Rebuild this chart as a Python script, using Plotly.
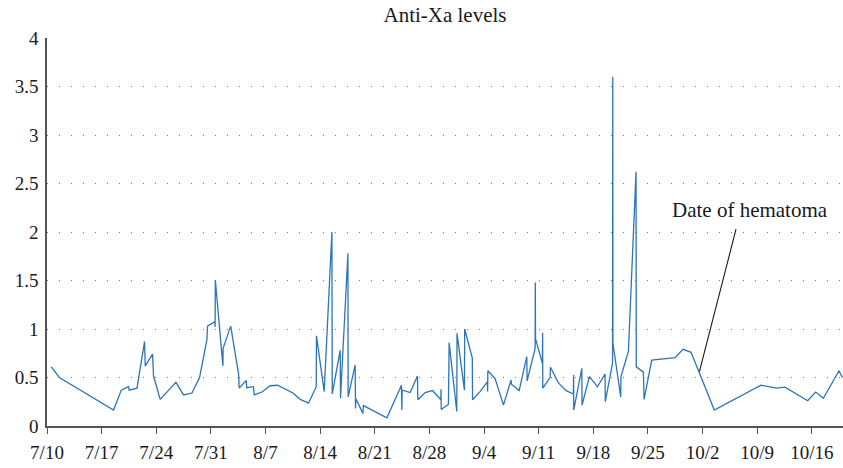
import pandas as pd
import plotly.graph_objects as go

# Measurement times, expressed as days elapsed since 7/10 (fractional = time of day)
start_date = "2019-07-10"
days_since_start = [
    0.55, 1.58, 8.53, 9.52, 10.45, 10.54, 11.53, 12.50, 12.59, 13.53, 13.65, 14.51,
    16.52, 17.50, 18.57, 19.55, 20.49, 20.57, 21.52, 21.54, 21.57, 22.54, 22.57,
    23.54, 24.54, 24.63, 25.53, 25.59, 26.46, 26.55, 27.54, 28.60, 29.54, 30.43,
    31.51, 32.45, 33.51, 34.50, 34.53, 35.52, 36.51, 36.55, 37.57, 37.61, 38.56,
    38.59, 39.49, 39.53, 39.58, 40.48, 40.55, 43.55, 45.42, 45.47, 45.51, 46.54,
    47.47, 47.52, 48.46, 49.39, 50.47, 50.49, 50.52, 51.44, 51.53, 52.51, 52.54,
    53.49, 53.52, 54.50, 54.53, 55.49, 56.43, 56.46, 56.49, 57.42, 58.49, 59.47,
    59.51, 60.50, 61.48, 61.52, 62.55, 62.57, 62.60, 63.48, 63.51, 63.53, 64.47,
    64.51, 65.53, 66.52, 67.45, 67.48, 67.50, 68.53, 68.56, 69.50, 70.53, 71.51,
    71.54, 72.47, 72.50, 72.52, 73.52, 73.55, 74.50, 75.48, 75.51, 76.42, 76.51,
    77.49, 80.48, 81.50, 82.53, 85.51, 91.49, 93.50, 94.57, 97.48, 98.50, 99.48,
    101.49, 101.91,
]
anti_xa = [
    0.61, 0.50, 0.165, 0.37, 0.405, 0.37, 0.39, 0.87, 0.62, 0.74, 0.515, 0.275,
    0.45, 0.32, 0.34, 0.50, 0.89, 1.03, 1.075, 1.02, 1.505, 0.62, 0.80,
    1.03, 0.54, 0.39, 0.47, 0.395, 0.405, 0.32, 0.35, 0.415, 0.42, 0.38,
    0.34, 0.275, 0.235, 0.405, 0.93, 0.355, 2.00, 0.33, 0.78, 0.285, 1.78,
    0.30, 0.63, 0.18, 0.28, 0.13, 0.21, 0.085, 0.42, 0.165, 0.37, 0.345,
    0.515, 0.27, 0.345, 0.365, 0.27, 0.38, 0.17, 0.225, 0.86, 0.15, 0.955,
    0.37, 1.00, 0.70, 0.27, 0.355, 0.455, 0.355, 0.57, 0.49, 0.215, 0.475,
    0.43, 0.365, 0.715, 0.465, 0.80, 1.48, 0.90, 0.645, 0.96, 0.39, 0.50,
    0.605, 0.445, 0.365, 0.33, 0.525, 0.165, 0.595, 0.215, 0.51, 0.405, 0.535,
    0.25, 0.65, 3.60, 0.85, 0.30, 0.51, 0.77, 2.62, 0.61, 0.555, 0.275,
    0.68, 0.705, 0.79, 0.76, 0.165, 0.42, 0.39, 0.40, 0.26, 0.35, 0.285,
    0.57, 0.50,
]

title_text = "Anti-Xa levels"
annotation_text = "Date of hematoma"
hematoma_day = 83.6        # days since 7/10
hematoma_level = 0.56
label_day = 90.1
label_level = 2.23
axis_end_day = 102.0
y_ticks = [0, 0.5, 1, 1.5, 2, 2.5, 3, 3.5, 4]
y_tick_labels = ["0", "0.5", "1", "1.5", "2", "2.5", "3", "3.5", "4"]

base = pd.Timestamp(start_date)
x_dates = [base + pd.Timedelta(days=d) for d in days_since_start]

FONT = "Liberation Serif"
fig = go.Figure()
fig.add_trace(go.Scatter(
    x=x_dates, y=anti_xa, mode="lines",
    line=dict(color="#2E75B6", width=1.3),
    showlegend=False, hoverinfo="x+y",
))

fig.add_annotation(
    x=base + pd.Timedelta(days=hematoma_day), y=hematoma_level,
    text="", showarrow=True, arrowhead=0, arrowwidth=1.1, arrowcolor="#1a1a1a",
    ax=37, ay=-144, standoff=0,
)
fig.add_annotation(
    x=base + pd.Timedelta(days=label_day), y=label_level,
    text=annotation_text, showarrow=False,
    font=dict(family=FONT, size=21, color="#1a1a1a"),
    xanchor="center", yanchor="middle",
)

fig.update_layout(
    width=843, height=468,
    margin=dict(l=47, r=0, t=38, b=42),
    paper_bgcolor="white", plot_bgcolor="white",
    font=dict(family=FONT, size=19, color="#1a1a1a"),
    title=dict(text=title_text, x=0.5, xref="paper", xanchor="center",
               y=1 - 15 / 468, yref="container", yanchor="middle",
               font=dict(family=FONT, size=21, color="#1a1a1a")),
)
fig.update_xaxes(
    type="date",
    range=[base, base + pd.Timedelta(days=axis_end_day)],
    tick0=base, dtick=7 * 86400000, tickformat="%-m/%-d",
    ticks="outside", ticklen=6, tickcolor="#555", tickwidth=1.3,
    showline=True, linecolor="#555", linewidth=1.5,
    showgrid=False, zeroline=False, ticklabelstandoff=2,
    tickfont=dict(family=FONT, size=19, color="#1a1a1a"),
)
fig.update_yaxes(
    range=[0, 4], tickvals=y_ticks, ticktext=y_tick_labels,
    showline=True, linecolor="#555", linewidth=1.5, ticks="",
    showgrid=True, gridcolor="#777", gridwidth=1, griddash="1.2px,10.8px",
    zeroline=False, ticklabelstandoff=3,
    tickfont=dict(family=FONT, size=19, color="#1a1a1a"),
)

# remove the browser's default 8px page margin so the figure fills the window
fig.write_html("out.html",
               config={"displayModeBar": False},
               post_script="document.body.style.margin='0';document.body.style.overflow='hidden';")
